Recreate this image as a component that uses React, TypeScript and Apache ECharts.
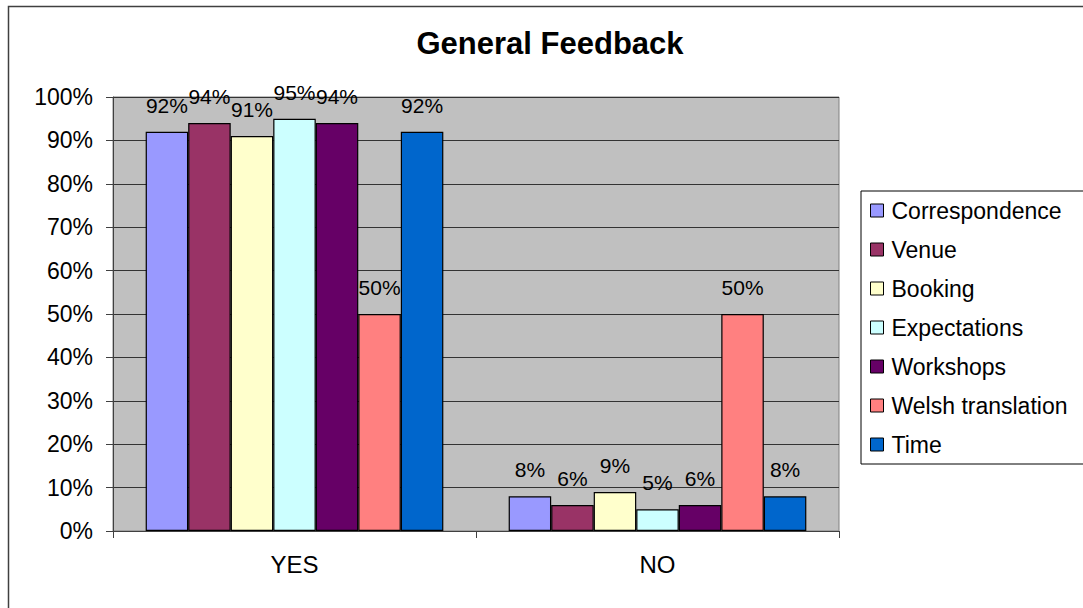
import React, { useEffect, useRef } from "react";
import * as echarts from "echarts";

const categories = ["YES", "NO"];
const seriesNames = [
  "Correspondence",
  "Venue",
  "Booking",
  "Expectations",
  "Workshops",
  "Welsh translation",
  "Time",
];
const correspondence = [92, 8];
const venue = [94, 6];
const booking = [91, 9];
const expectations = [95, 5];
const workshops = [94, 6];
const welshTranslation = [50, 50];
const time = [92, 8];
const seriesValues = [correspondence, venue, booking, expectations, workshops, welshTranslation, time];
const colors = ["#9999FF", "#993366", "#FFFFCC", "#CCFFFF", "#660066", "#FF8080", "#0066CC"];
const yTicks = [0, 10, 20, 30, 40, 50, 60, 70, 80, 90, 100];

const FONT = "'Liberation Sans', Arial, sans-serif";

export default function App() {
  const ref = useRef<HTMLDivElement>(null);
  useEffect(() => {
    if (!ref.current) return;
    const chart = echarts.init(ref.current, undefined, { renderer: "svg" });
    chart.setOption({
      animation: false,
      backgroundColor: "#ffffff",
      title: {
        text: "General Feedback",
        left: 545,
        textAlign: "center",
        top: 23,
        textStyle: { fontFamily: FONT, fontSize: 31, fontWeight: "bold", color: "#000" },
      },
      graphic: [
        {
          type: "rect",
          left: 6,
          top: 4,
          shape: { width: 1200, height: 700 },
          style: { fill: "none", stroke: "#404040", lineWidth: 1.5 },
          silent: true,
        },
      ],
      legend: {
        orient: "vertical",
        left: 861,
        top: 191,
        padding: [8, 200, 8, 9],
        borderColor: "#000",
        borderWidth: 1,
        itemWidth: 13,
        itemHeight: 13,
        itemGap: 16,
        icon: "rect",
        itemStyle: { borderColor: "#000", borderWidth: 1 },
        textStyle: { fontFamily: FONT, fontSize: 23, lineHeight: 22, color: "#000", padding: [0, 0, 0, 3] },
        data: seriesNames,
      },
      grid: {
        left: 113,
        top: 97,
        right: 244,
        bottom: 77,
        show: true,
        backgroundColor: "#C0C0C0",
        borderColor: "#808080",
        borderWidth: 1,
        containLabel: false,
      },
      xAxis: {
        type: "category",
        data: categories,
        axisLine: { show: true, lineStyle: { color: "#404040", width: 1 } },
        axisTick: { show: true, length: 7, alignWithLabel: false, lineStyle: { color: "#404040" } },
        axisLabel: { fontFamily: FONT, fontSize: 24, color: "#000", margin: 21 },
        splitLine: { show: false },
      },
      yAxis: {
        type: "value",
        min: yTicks[0],
        max: yTicks[yTicks.length - 1],
        interval: 10,
        axisLine: { show: true, lineStyle: { color: "#404040", width: 1 } },
        axisTick: { show: true, length: 7, lineStyle: { color: "#404040" } },
        axisLabel: { fontFamily: FONT, fontSize: 23, color: "#000", margin: 20, formatter: "{value}%" },
        splitLine: { show: true, lineStyle: { color: "#333333", width: 1 } },
      },
      series: seriesNames.map((name, i) => ({
        name,
        type: "bar",
        data: seriesValues[i],
        barGap: "0%",
        barCategoryGap: "18%",
        itemStyle: { color: colors[i], borderColor: "#000", borderWidth: 1.2 },
        label: {
          show: true,
          position: "top",
          distance: 16,
          fontFamily: FONT,
          fontSize: 21,
          color: "#000",
          formatter: "{c}%",
        },
      })),
    });
    return () => chart.dispose();
  }, []);
  return (
    <div
      ref={ref}
      style={{ position: "fixed", left: 0, top: 0, width: 1083, height: 608 }}
    />
  );
}
